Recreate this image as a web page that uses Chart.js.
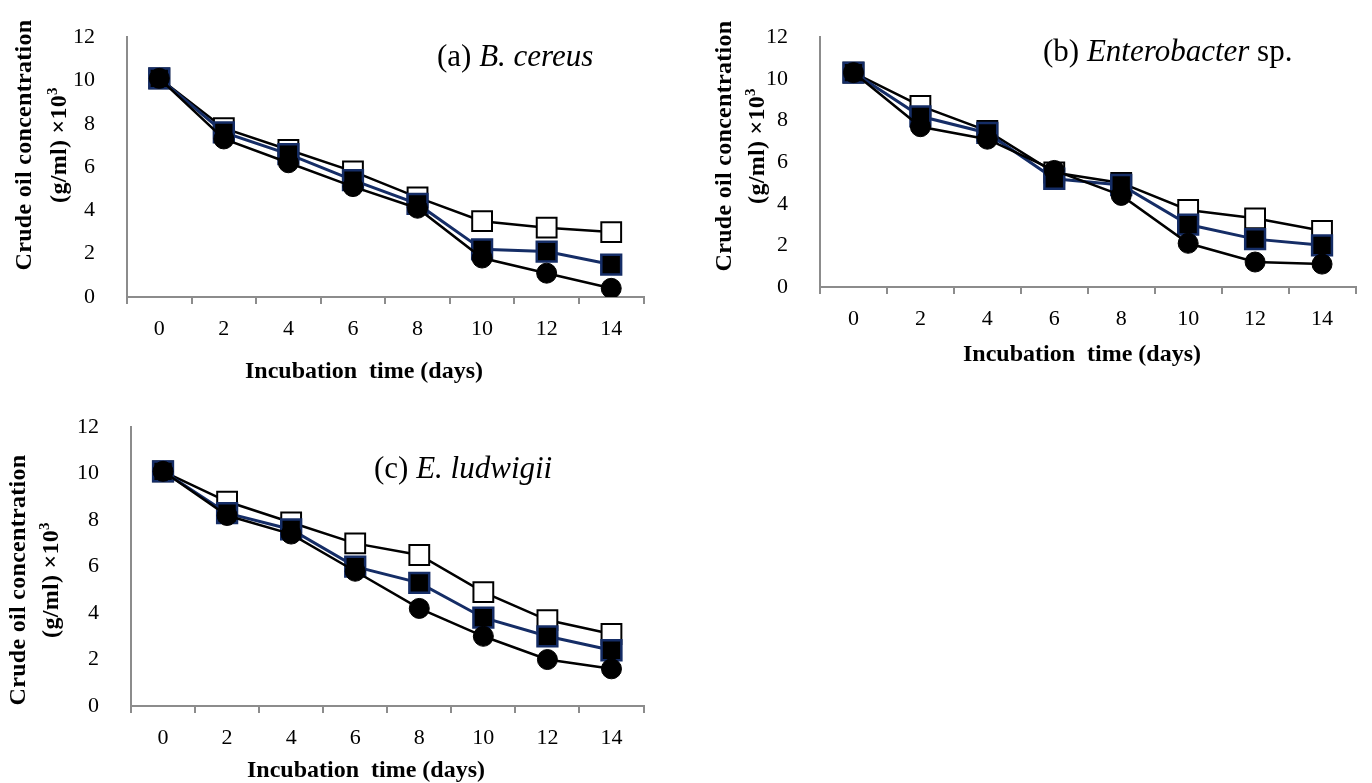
<!DOCTYPE html>
<html>
<head>
<meta charset="utf-8">
<script src="https://cdn.jsdelivr.net/npm/chart.js@4.4.1/dist/chart.umd.min.js"></script>
<style>
  html, body { margin: 0; padding: 0; background: #fff; }
  body { width: 1372px; height: 783px; position: relative; overflow: hidden; font-family: "Liberation Serif", "Times New Roman", serif; }
  canvas { position: absolute; }
  .lbl { position: absolute; white-space: nowrap; color: #000; transform: translate(-50%, -50%); line-height: 1; }
  .xt { font-weight: bold; font-size: 24px; }
  .yt { font-weight: bold; font-size: 24px; letter-spacing: 0.3px; transform: translate(-50%, -50%) rotate(-90deg); }
  .ann { font-size: 31px; transform: translate(0, -50%); }
  sup { font-size: 15px; vertical-align: 9px; }
</style>
</head>
<body>

<canvas id="chartA" width="660" height="390" style="left:0px; top:0px;"></canvas>
<canvas id="chartB" width="682" height="390" style="left:690px; top:0px;"></canvas>
<canvas id="chartC" width="660" height="393" style="left:0px; top:390px;"></canvas>

<!-- panel a -->
<div class="lbl ann" style="left:437px; top:55px;">(a) <i>B. cereus</i></div>
<div class="lbl yt" style="left:23px; top:145px;">Crude oil concentration</div>
<div class="lbl yt" style="left:57px; top:145px;">(g/ml) ×10<sup>3</sup></div>
<div class="lbl xt" style="left:364px; top:370px;">Incubation&nbsp; time (days)</div>

<!-- panel b -->
<div class="lbl ann" style="left:1043px; top:50px;">(b) <i>Enterobacter</i> sp.</div>
<div class="lbl yt" style="left:723px; top:146px;">Crude oil concentration</div>
<div class="lbl yt" style="left:755px; top:146px;">(g/ml) ×10<sup>3</sup></div>
<div class="lbl xt" style="left:1082px; top:353px;">Incubation&nbsp; time (days)</div>

<!-- panel c -->
<div class="lbl ann" style="left:374px; top:467px;">(c) <i>E. ludwigii</i></div>
<div class="lbl yt" style="left:17px; top:580px;">Crude oil concentration</div>
<div class="lbl yt" style="left:49px; top:580px;">(g/ml) ×10<sup>3</sup></div>
<div class="lbl xt" style="left:366px; top:769px;">Incubation&nbsp; time (days)</div>

<script>
var days = ['0', '2', '4', '6', '8', '10', '12', '14'];
var yTicks = [0, 2, 4, 6, 8, 10, 12];

// (a) B. cereus
var cereusOpen   = [10.1, 7.8, 6.8, 5.8, 4.6, 3.5, 3.2, 3.0];
var cereusSquare = [10.1, 7.6, 6.6, 5.4, 4.3, 2.2, 2.1, 1.5];
var cereusCircle = [10.1, 7.3, 6.2, 5.1, 4.1, 1.8, 1.1, 0.4];

// (b) Enterobacter sp.
var enteroOpen   = [10.3, 8.7, 7.5, 5.5, 5.0, 3.7, 3.3, 2.7];
var enteroSquare = [10.3, 8.2, 7.4, 5.2, 4.9, 3.0, 2.3, 2.0];
var enteroCircle = [10.3, 7.7, 7.1, 5.6, 4.4, 2.1, 1.2, 1.1];

// (c) E. ludwigii
var ludwigiiOpen   = [10.1, 8.8, 7.9, 7.0, 6.5, 4.9, 3.7, 3.1];
var ludwigiiSquare = [10.1, 8.3, 7.6, 6.0, 5.3, 3.8, 3.0, 2.4];
var ludwigiiCircle = [10.1, 8.2, 7.4, 5.8, 4.2, 3.0, 2.0, 1.6];

var navy = '#152d66';
var axisGrey = '#8c8c8c';

function makeChart(id, openVals, squareVals, circleVals, box) {

    var data = {
        labels: days,
        datasets: [
            {
                label: 'circle',
                data: circleVals,
                borderColor: '#000',
                backgroundColor: '#000',
                borderWidth: 2.5,
                pointStyle: 'circle',
                pointRadius: 10,
                pointBorderWidth: 1,
                pointBorderColor: '#000',
                pointBackgroundColor: '#000',
                fill: false,
                tension: 0
            },
            {
                label: 'filled square',
                data: squareVals,
                borderColor: navy,
                backgroundColor: '#000',
                borderWidth: 3,
                pointStyle: 'rect',
                pointRadius: 14,
                pointBorderWidth: 2.5,
                pointBorderColor: navy,
                pointBackgroundColor: '#000',
                fill: false,
                tension: 0
            },
            {
                label: 'open square',
                data: openVals,
                borderColor: '#000',
                backgroundColor: '#fff',
                borderWidth: 2.5,
                pointStyle: 'rect',
                pointRadius: 14,
                pointBorderWidth: 2,
                pointBorderColor: '#000',
                pointBackgroundColor: '#fff',
                fill: false,
                tension: 0
            }
        ]
    };

    var tickFont = { family: '"Liberation Serif", "Times New Roman", serif', size: 22 };

    var options = {
        responsive: false,
        animation: false,
        layout: {
            padding: { top: box.top, right: box.right, left: 0, bottom: 0 }
        },
        plugins: {
            legend: { display: false },
            tooltip: { enabled: false }
        },
        scales: {
            x: {
                type: 'category',
                offset: true,
                grid: {
                    display: true,
                    drawOnChartArea: false,
                    drawTicks: true,
                    tickLength: 7,
                    offset: true,
                    color: axisGrey,
                    lineWidth: 2
                },
                border: { display: true, color: axisGrey, width: 2 },
                ticks: { color: '#000', font: tickFont, padding: 12, maxRotation: 0 },
                afterFit: function (scale) { scale.height = box.xHeight; }
            },
            y: {
                min: yTicks[0],
                max: yTicks[yTicks.length - 1],
                ticks: { stepSize: yTicks[1] - yTicks[0], color: '#000', font: tickFont, padding: 24 },
                grid: { display: false },
                border: { display: true, color: axisGrey, width: 2 },
                afterFit: function (scale) { scale.width = box.yWidth; }
            }
        }
    };

    return new Chart(document.getElementById(id), {
        type: 'line',
        data: data,
        options: options
    });
}

makeChart('chartA', cereusOpen, cereusSquare, cereusCircle,
    { top: 28, right: 2, yWidth: 127, xHeight: 93 });
makeChart('chartB', enteroOpen, enteroSquare, enteroCircle,
    { top: 15, right: 2, yWidth: 130, xHeight: 103 });
makeChart('chartC', ludwigiiOpen, ludwigiiSquare, ludwigiiCircle,
    { top: 25, right: 5, yWidth: 131, xHeight: 77 });
</script>
</body>
</html>
